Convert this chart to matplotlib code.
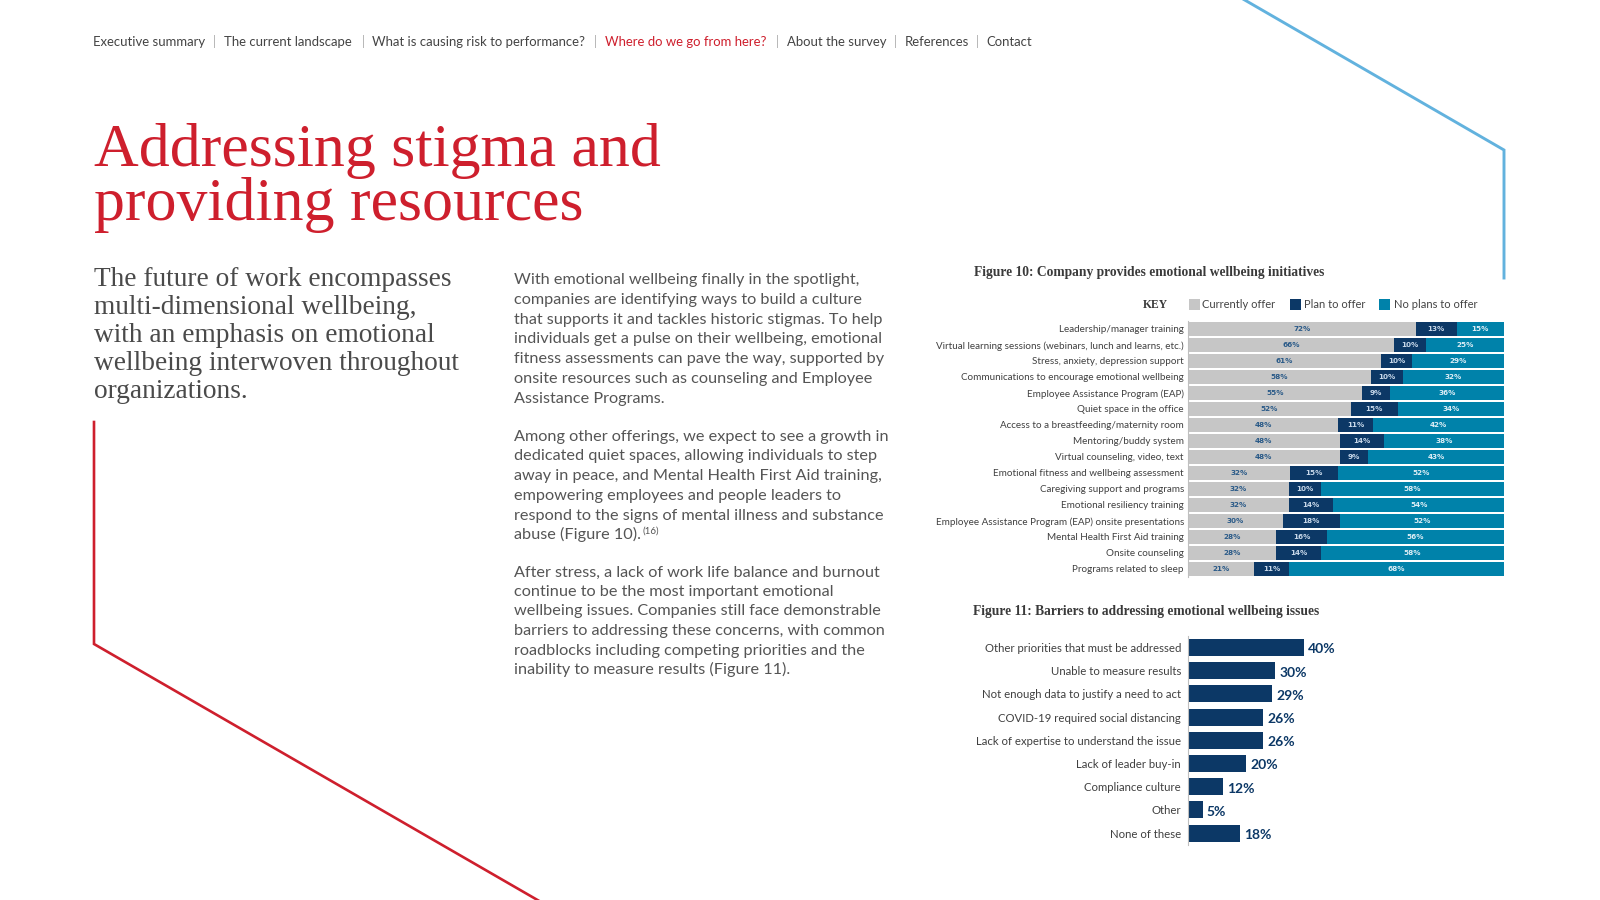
import matplotlib
matplotlib.use('Agg')
import matplotlib.pyplot as plt
from matplotlib.patches import Rectangle
import numpy as np

# ---------------- data ----------------
nav_items = ["Executive summary", "The current landscape", "What is causing risk to performance?",
             "Where do we go from here?", "About the survey", "References", "Contact"]
nav_active = 3

title_lines = ["Addressing stigma and", "providing resources"]
intro_lines = ["The future of work encompasses", "multi-dimensional wellbeing,",
               "with an emphasis on emotional", "wellbeing interwoven throughout", "organizations."]
para1 = ["With emotional wellbeing finally in the spotlight,",
         "companies are identifying ways to build a culture",
         "that supports it and tackles historic stigmas. To help",
         "individuals get a pulse on their wellbeing, emotional",
         "fitness assessments can pave the way, supported by",
         "onsite resources such as counseling and Employee",
         "Assistance Programs."]
para2 = ["Among other offerings, we expect to see a growth in",
         "dedicated quiet spaces, allowing individuals to step",
         "away in peace, and Mental Health First Aid training,",
         "empowering employees and people leaders to",
         "respond to the signs of mental illness and substance",
         "abuse (Figure 10)."]
para2_sup = "(16)"
para3 = ["After stress, a lack of work life balance and burnout",
         "continue to be the most important emotional",
         "wellbeing issues. Companies still face demonstrable",
         "barriers to addressing these concerns, with common",
         "roadblocks including competing priorities and the",
         "inability to measure results (Figure 11)."]

fig10_title = "Figure 10: Company provides emotional wellbeing initiatives"
series10 = ["Currently offer", "Plan to offer", "No plans to offer"]
cats10 = ["Leadership/manager training",
          "Virtual learning sessions (webinars, lunch and learns, etc.)",
          "Stress, anxiety, depression support",
          "Communications to encourage emotional wellbeing",
          "Employee Assistance Program (EAP)",
          "Quiet space in the office",
          "Access to a breastfeeding/maternity room",
          "Mentoring/buddy system",
          "Virtual counseling, video, text",
          "Emotional fitness and wellbeing assessment",
          "Caregiving support and programs",
          "Emotional resiliency training",
          "Employee Assistance Program (EAP) onsite presentations",
          "Mental Health First Aid training",
          "Onsite counseling",
          "Programs related to sleep"]
current = [72, 66, 61, 58, 55, 52, 48, 48, 48, 32, 32, 32, 30, 28, 28, 21]
plan = [13, 10, 10, 10, 9, 15, 11, 14, 9, 15, 10, 14, 18, 16, 14, 11]
noplans = [15, 25, 29, 32, 36, 34, 42, 38, 43, 52, 58, 54, 52, 56, 58, 68]

fig11_title = "Figure 11: Barriers to addressing emotional wellbeing issues"
cats11 = ["Other priorities that must be addressed", "Unable to measure results",
          "Not enough data to justify a need to act", "COVID-19 required social distancing",
          "Lack of expertise to understand the issue", "Lack of leader buy-in",
          "Compliance culture", "Other", "None of these"]
vals11 = [40, 30, 29, 26, 26, 20, 12, 5, 18]

# ---------------- style ----------------
RED = '#CE1F2D'
BLUE_LINE = '#62B2DE'
GRAY = '#C6C6C6'
NAVY = '#0C3866'
TEAL = '#0082AA'
SANS = ['Lato', 'DejaVu Sans']
SERIF = ['Liberation Serif', 'DejaVu Serif']
SW = 'normal'

W, H = 1600, 900
fig = plt.figure(figsize=(16, 9), dpi=100)
fig.patch.set_facecolor('white')
bg = fig.add_axes([0, 0, 1, 1])
bg.set_xlim(0, W)
bg.set_ylim(H, 0)
bg.axis('off')
renderer = fig.canvas.get_renderer()


def px_ax(left, top, right, bottom):
    return fig.add_axes([left / W, (H - bottom) / H, (right - left) / W, (bottom - top) / H])


def fit_size(s, target, **kw):
    t = bg.text(0, 0, s, fontsize=10, **kw)
    w = t.get_window_extent(renderer).width
    t.remove()
    return 10.0 * target / w


# decorative lines
bg.plot([94, 94, 560], [422, 644, 913], color=RED, lw=1.9, solid_joinstyle='miter', clip_on=True)
bg.plot([1243, 1504, 1504], [-1, 150, 278], color=BLUE_LINE, lw=2.1, solid_joinstyle='miter')

# nav bar
nav_x = [93, 223.5, 372.5, 605, 786.7, 905, 986.7]
sep_x = [214.3, 363.3, 595.9, 777.5, 895.9, 977.6]
fs_nav = fit_size(nav_items[2], 213, family=SANS, fontweight=SW)
for i, (s, x) in enumerate(zip(nav_items, nav_x)):
    bg.text(x, 46.5, s, fontsize=fs_nav, family=SANS, fontweight=SW,
            color=RED if i == nav_active else '#444444', va='baseline', ha='left')
for x in sep_x:
    bg.text(x, 46.5, '|', fontsize=fs_nav, family=SANS, fontweight=SW,
            color='#B0B0B0', va='baseline', ha='center')

# title
fs_title = fit_size(title_lines[0], 568, family=SERIF)
for s, yb in zip(title_lines, [166, 220]):
    bg.text(94, yb, s, fontsize=fs_title, family=SERIF, color=RED, va='baseline', ha='left')

# intro
fs_intro = fit_size(intro_lines[3], 364, family=SERIF)
for k, s in enumerate(intro_lines):
    bg.text(94, 285.7 + 28.1 * k, s, fontsize=fs_intro, family=SERIF, color='#4A4A4A',
            va='baseline', ha='left')

# body
fs_body = fit_size(para2[0], 375, family=SANS, fontweight=SW)
body_kw = dict(fontsize=fs_body, family=SANS, fontweight=SW, color='#555555',
               va='baseline', ha='left')
for k, s in enumerate(para1):
    bg.text(514, 284 + 19.8 * k, s, **body_kw)
last = None
for k, s in enumerate(para2):
    last = bg.text(514, 440.5 + 19.8 * k, s, **body_kw)
ext = last.get_window_extent(renderer)
bg.text(ext.x1 + 1.5, 440.5 + 19.8 * (len(para2) - 1) - 6, para2_sup,
        fontsize=fs_body * 0.6, family=SANS, color='#555555', va='baseline', ha='left')
for k, s in enumerate(para3):
    bg.text(514, 576.5 + 19.5 * k, s, **body_kw)

# figure titles
fs_ft = fit_size(fig10_title, 351, family=SERIF, fontweight='bold')
bg.text(973.5, 276, fig10_title, fontsize=fs_ft, family=SERIF, fontweight='bold',
        color='#3A3A3A', va='baseline', ha='left')
bg.text(973, 615, fig11_title, fontsize=fs_ft, family=SERIF, fontweight='bold',
        color='#3A3A3A', va='baseline', ha='left')

# legend (KEY)
fs_key = fit_size("KEY", 25, family=SERIF, fontweight='bold')
bg.text(1143, 308.5, "KEY", fontsize=fs_key, family=SERIF, fontweight='bold',
        color='#3A3A3A', va='baseline', ha='left')
fs_leg = fit_size(series10[2], 83, family=SANS, fontweight=SW)
leg_sq = [1188.5, 1289.5, 1378.5]
leg_tx = [1202.5, 1304.5, 1393.5]
for name, col, sx, tx in zip(series10, [GRAY, NAVY, TEAL], leg_sq, leg_tx):
    bg.add_patch(Rectangle((sx, 298.5), 11.5, 11.5, facecolor=col, edgecolor='none'))
    bg.text(tx, 308.5, name, fontsize=fs_leg, family=SANS, fontweight=SW,
            color='#444444', va='baseline', ha='left')

# ---------------- Figure 10 ----------------
ax10 = px_ax(1188, 321, 1504, 577)
cur = np.array(current, float)
pla = np.array(plan, float)
nop = np.array(noplans, float)
tot = cur + pla + nop
c_n, p_n, n_n = cur / tot * 100, pla / tot * 100, nop / tot * 100
y10 = np.arange(len(cats10))
ax10.barh(y10, c_n, height=0.85, color=GRAY, label=series10[0])
ax10.barh(y10, p_n, left=c_n, height=0.85, color=NAVY, label=series10[1])
ax10.barh(y10, n_n, left=c_n + p_n, height=0.85, color=TEAL, label=series10[2])
lab_kw = dict(ha='center', va='center', fontsize=5.2, fontweight='bold', family=['DejaVu Sans'])
for i in range(len(cats10)):
    ax10.text(c_n[i] / 2, y10[i], f"{current[i]}%", color='#2A5A88', **lab_kw)
    ax10.text(c_n[i] + p_n[i] / 2, y10[i], f"{plan[i]}%", color='#C8D8EA', **lab_kw)
    ax10.text(c_n[i] + p_n[i] + n_n[i] / 2, y10[i], f"{noplans[i]}%", color='#DDEEF6', **lab_kw)
ax10.set_xlim(0, 100)
ax10.set_ylim(len(cats10) - 0.5, -0.5)
fs10 = fit_size(cats10[1], 247, family=SANS, fontweight=SW)
ax10.set_yticks(y10)
ax10.set_yticklabels(cats10, fontsize=fs10, family=SANS, fontweight=SW, color='#404040')
ax10.tick_params(axis='y', length=0, pad=2.9)
ax10.set_xticks([])
for sp in ['top', 'right', 'bottom']:
    ax10.spines[sp].set_visible(False)
ax10.spines['left'].set_color('#BFBFBF')
ax10.spines['left'].set_linewidth(0.8)
ax10.patch.set_alpha(0)

# ---------------- Figure 11 ----------------
ax11 = px_ax(1188, 635.9, 1478, 844.7)
y11 = np.arange(len(cats11))
ax11.barh(y11, vals11, height=0.73, color=NAVY)
for i, v in enumerate(vals11):
    ax11.text(v + 1.4, y11[i] + 0.08, f"{v}%", ha='left', va='center', fontsize=10,
              fontweight='bold', family=SANS, color=NAVY)
ax11.set_xlim(0, 100)
ax11.set_ylim(len(cats11) - 0.5, -0.5)
fs11 = fit_size(cats11[0], 197, family=SANS, fontweight=SW)
ax11.set_yticks(y11)
ax11.set_yticklabels(cats11, fontsize=fs11, family=SANS, fontweight=SW, color='#404040')
ax11.tick_params(axis='y', length=0, pad=5)
ax11.set_xticks([])
for sp in ['top', 'right', 'bottom']:
    ax11.spines[sp].set_visible(False)
ax11.spines['left'].set_color('#BFBFBF')
ax11.spines['left'].set_linewidth(0.8)
ax11.patch.set_alpha(0)

fig.savefig('out.png', dpi=100, facecolor='white')
